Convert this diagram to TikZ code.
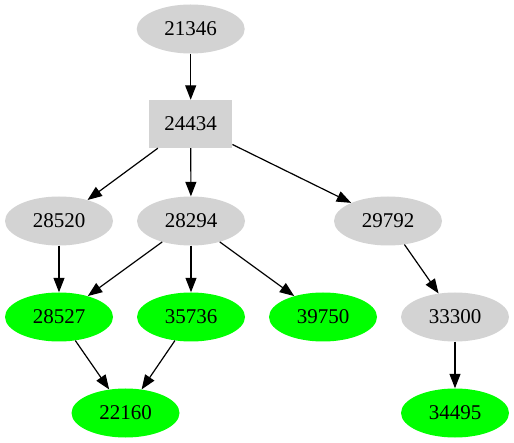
\documentclass[tikz,border=0pt]{standalone}
\usepackage{fontspec}
\setmainfont{Liberation Serif}
\usetikzlibrary{shapes.geometric,arrows.meta}
\definecolor{lgray}{RGB}{211,211,211}
\definecolor{vgreen}{RGB}{0,255,0}
\begin{document}
\begin{tikzpicture}[x=1pt,y=-1pt,
  every node/.style={font=\fontsize{21}{25}\selectfont, inner sep=0pt},
  gnode/.style={ellipse, fill=lgray, minimum width=108pt, minimum height=49pt},
  leaf/.style={ellipse, fill=vgreen, minimum width=108pt, minimum height=49pt},
  boxnode/.style={rectangle, fill=lgray, minimum width=83pt, minimum height=48pt},
  edge/.style={draw, line width=1.2pt, -{Triangle[length=14.5pt,width=11pt]}}]
\useasboundingbox (0,0) rectangle (514,443);
\node[gnode] (a) at (190.7,29) {21346};
\node[boxnode] (b) at (190.7,124) {24434};
\node[gnode] (c) at (59,221) {28520};
\node[gnode] (d) at (191,221) {28294};
\node[gnode] (e) at (388,221) {29792};
\node[leaf] (f) at (59,317) {28527};
\node[leaf] (g) at (191,317) {35736};
\node[leaf] (h) at (323,317) {39750};
\node[gnode] (i) at (455,317) {33300};
\node[leaf] (j) at (125.5,413) {22160};
\node[leaf] (k) at (455,413) {34495};
\path[edge] (a) -- (b);
\path[edge] (b) -- (c);
\path[edge] (b) -- (d);
\path[edge] (b) -- (e);
\path[edge] (c) -- (f);
\path[edge] (d) -- (f);
\path[edge] (d) -- (g);
\path[edge] (d) -- (h);
\path[edge] (e) -- (i);
\path[edge] (f) -- (j);
\path[edge] (g) -- (j);
\path[edge] (i) -- (k);
\end{tikzpicture}
\end{document}
